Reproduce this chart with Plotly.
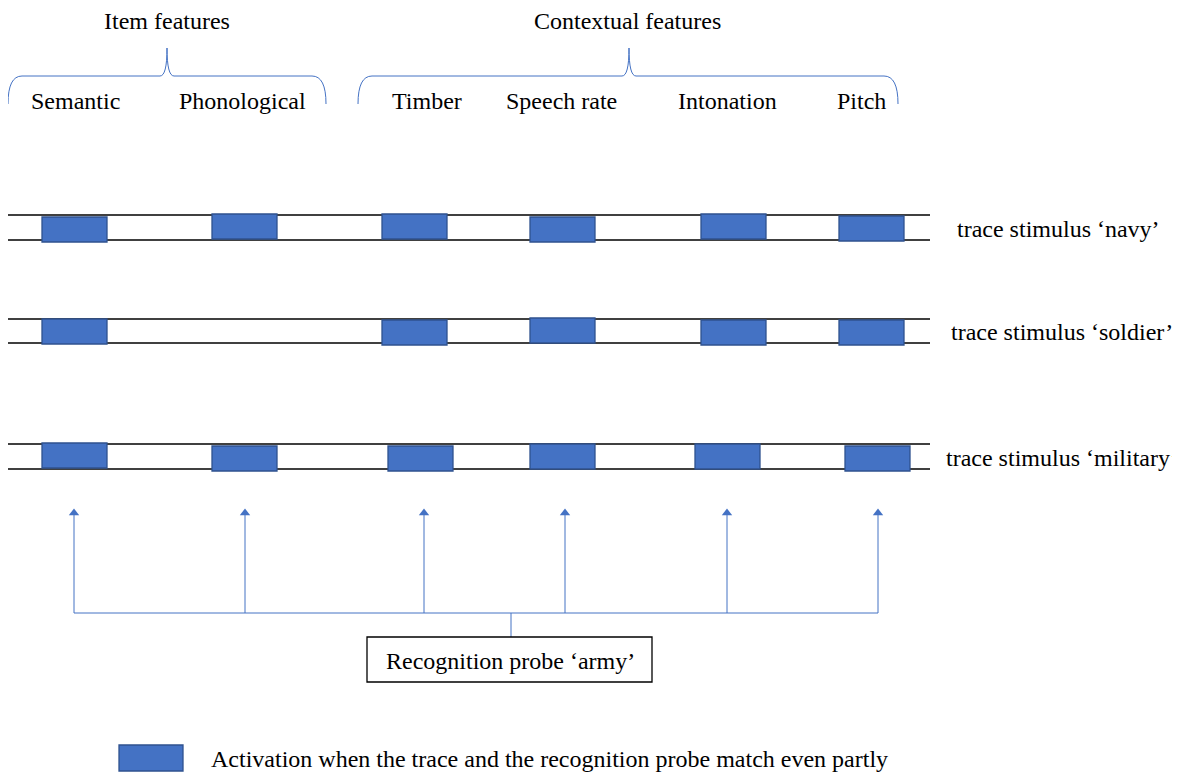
import plotly.graph_objects as go

# ---- data ----
group_labels = ["Item features", "Contextual features"]
group_x = [167, 627]
feature_labels = ["Semantic", "Phonological", "Timber", "Speech rate", "Intonation", "Pitch"]
feature_label_x = [75, 242, 427, 561, 727, 861]

trace_names = ["trace stimulus \u2018navy\u2019", "trace stimulus \u2018soldier\u2019", "trace stimulus \u2018military\u2019"]
trace_label_x = [955, 949, 944]
trace_line_top = [215, 319, 444]
trace_line_bottom = [240, 343, 469]
# boxes per trace: (feature, left x, top y)
navy_boxes = [("Semantic", 42, 217), ("Phonological", 212, 214), ("Timber", 382, 214),
              ("Speech rate", 530, 217), ("Intonation", 701, 214), ("Pitch", 839, 216)]
soldier_boxes = [("Semantic", 42, 319), ("Timber", 382, 320), ("Speech rate", 530, 318),
                 ("Intonation", 701, 320), ("Pitch", 839, 320)]
military_boxes = [("Semantic", 42, 443), ("Phonological", 212, 446), ("Timber", 388, 446),
                  ("Speech rate", 530, 444), ("Intonation", 695, 444), ("Pitch", 845, 446)]
all_boxes = [navy_boxes, soldier_boxes, military_boxes]

arrow_x = [74, 245, 424, 565, 727, 878]
probe_label = "Recognition probe \u2018army\u2019"
legend_label = "Activation when the trace and the recognition probe match even partly"

# ---- style ----
BLUE = "#4472C4"
BORDER = "#2F528F"
FONT = "Liberation Serif"
FS = 24
BOX_W, BOX_H = 65, 25
LINE_X0, LINE_X1 = 8, 930
OFF = 8  # page body margin: make data units equal window pixels

fig = go.Figure()
shapes = []
annotations = []

# brackets
brackets = [(8, 167, 326), (358, 629, 898)]
for l, m, r in brackets:
    path = (f"M {l},104 Q {l},76 {l+14},76 L {m-7},76 Q {m},76 {m},48 "
            f"Q {m},76 {m+7},76 L {r-14},76 Q {r},76 {r},104")
    shapes.append(dict(type="path", path=path, line=dict(color=BLUE, width=1), xref="x", yref="y"))

for lab, x in zip(group_labels, group_x):
    annotations.append(dict(x=x, y=21, text=lab, showarrow=False, xanchor="center", yanchor="middle",
                            font=dict(family=FONT, size=FS, color="black")))
for lab, x in zip(feature_labels, feature_label_x):
    annotations.append(dict(x=x, y=101, text=lab, showarrow=False, xanchor="center", yanchor="middle",
                            font=dict(family=FONT, size=FS, color="black")))

# trace lines and boxes
for i, name in enumerate(trace_names):
    for yy in (trace_line_top[i], trace_line_bottom[i]):
        shapes.append(dict(type="line", x0=LINE_X0, x1=LINE_X1, y0=yy, y1=yy,
                           line=dict(color="black", width=1.5), xref="x", yref="y"))
    for feat, bx, by in all_boxes[i]:
        shapes.append(dict(type="rect", x0=bx, x1=bx + BOX_W, y0=by, y1=by + BOX_H,
                           fillcolor=BLUE, line=dict(color=BORDER, width=1.3), xref="x", yref="y"))
    annotations.append(dict(x=trace_label_x[i], y=(trace_line_top[i] + trace_line_bottom[i]) / 2 + 1,
                            text=name, showarrow=False, xanchor="left", yanchor="middle",
                            font=dict(family=FONT, size=FS, color="black")))

# arrows
for ax_ in arrow_x:
    shapes.append(dict(type="line", x0=ax_, x1=ax_, y0=613, y1=514,
                       line=dict(color=BLUE, width=1), xref="x", yref="y"))
fig.add_trace(go.Scatter(x=arrow_x, y=[513] * len(arrow_x), mode="markers",
                         marker=dict(symbol="triangle-up", size=9, color=BLUE),
                         hoverinfo="skip", showlegend=False))
shapes.append(dict(type="line", x0=min(arrow_x), x1=max(arrow_x), y0=613, y1=613,
                   line=dict(color=BLUE, width=1), xref="x", yref="y"))
shapes.append(dict(type="line", x0=511, x1=511, y0=613, y1=637,
                   line=dict(color=BLUE, width=1), xref="x", yref="y"))
shapes.append(dict(type="rect", x0=367, x1=652, y0=637, y1=682,
                   line=dict(color="black", width=1.3), fillcolor="white", xref="x", yref="y"))
annotations.append(dict(x=510, y=661, text=probe_label, showarrow=False, xanchor="center", yanchor="middle",
                        font=dict(family=FONT, size=FS, color="black")))

# legend
shapes.append(dict(type="rect", x0=119, x1=183, y0=745, y1=771, fillcolor=BLUE,
                   line=dict(color=BORDER, width=1.3), xref="x", yref="y"))
annotations.append(dict(x=209, y=759, text=legend_label, showarrow=False, xanchor="left", yanchor="middle",
                        font=dict(family=FONT, size=FS, color="black")))

fig.update_layout(
    width=1180, height=774,
    margin=dict(l=0, r=0, t=0, b=0),
    paper_bgcolor="white", plot_bgcolor="white",
    xaxis=dict(range=[OFF, 1180 + OFF], visible=False, fixedrange=True),
    yaxis=dict(range=[774 + OFF, OFF], visible=False, fixedrange=True),
    shapes=shapes, annotations=annotations, showlegend=False,
)
fig.write_html("out.html")
